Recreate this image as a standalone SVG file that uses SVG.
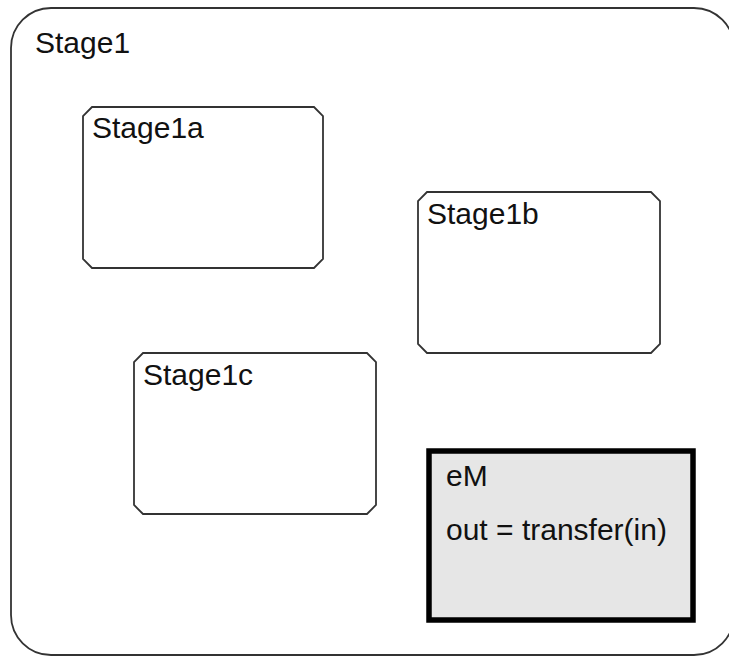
<svg xmlns="http://www.w3.org/2000/svg" width="729" height="656" viewBox="0 0 729 656">
<style>
.lbl{font-family:"Liberation Sans",Arial,sans-serif;font-size:30px;fill:#111;}
.st{fill:#fff;stroke:#333;stroke-width:1.8;}
.em{fill:#e6e6e6;stroke:#000;stroke-width:5.5;}
</style>
<rect width="729" height="656" fill="#fff"/>
<g id="Stage1">
<rect class="st" x="11" y="8" width="723" height="647" rx="40" ry="40"/>
<text class="lbl" x="35" y="53">Stage1</text>
</g>
<g id="Stage1a">
<polygon class="st" points="92,107 314,107 323,116 323,259 314,268 92,268 83,259 83,116"/>
<text class="lbl" x="92" y="138">Stage1a</text>
</g>
<g id="Stage1b">
<polygon class="st" points="427,192 651,192 660,201 660,344 651,353 427,353 418,344 418,201"/>
<text class="lbl" x="427" y="224">Stage1b</text>
</g>
<g id="Stage1c">
<polygon class="st" points="143,353 367,353 376,362 376,505 367,514 143,514 134,505 134,362"/>
<text class="lbl" x="143" y="385">Stage1c</text>
</g>
<g id="eM">
<rect class="em" x="429" y="451" width="264" height="169"/>
<text class="lbl" x="446" y="486">eM</text>
<text class="lbl" x="446" y="540">out = transfer(in)</text>
</g>
<g id="connectors"></g>
</svg>
